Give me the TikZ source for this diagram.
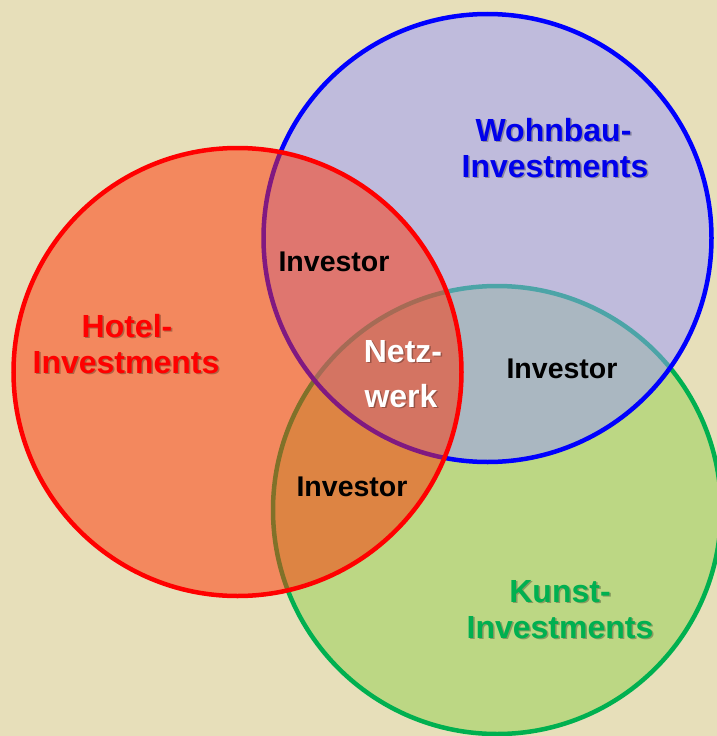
\documentclass[tikz,border=0pt]{standalone}
\usepackage{fontspec}
\setmainfont{Liberation Sans}
\definecolor{bgc}{RGB}{231,223,186}
\definecolor{gfill}{RGB}{146,208,80}
\definecolor{bfill}{RGB}{153,153,255}
\definecolor{rfill}{RGB}{255,51,4}
\definecolor{gline}{RGB}{0,176,80}
\definecolor{bline}{RGB}{0,0,255}
\definecolor{rline}{RGB}{255,0,0}
\definecolor{btext}{RGB}{0,0,235}
\definecolor{rtext}{RGB}{255,0,0}
\definecolor{gtext}{RGB}{0,176,80}
\begin{document}
\begin{tikzpicture}[x=1pt,y=-1pt,
  ring/.style={line width=4.5pt, fill opacity=0.5},
  big/.style={font=\fontsize{32}{38}\selectfont\bfseries, anchor=base, inner sep=0pt},
  small/.style={font=\fontsize{28.5}{34}\selectfont\bfseries, anchor=base, inner sep=0pt},
  shade/.style={text=black, text opacity=0.28}]
\useasboundingbox (0,0) rectangle (717,736);
\clip (0,0) rectangle (717,736);
\fill[bgc] (0,0) rectangle (717,736);
% circles: green, blue, red (red on top)
\draw[ring, draw=gline, fill=gfill] (497,510) circle[radius=224];
\draw[ring, draw=bline, fill=bfill] (487.5,238) circle[radius=224];
\draw[ring, draw=rline, fill=rfill] (237.5,372) circle[radius=224];
% Wohnbau
\node[big, shade] (wohnS) at (555,142.5) {Wohnbau-};
\node[big, text=btext] (wohn) at (553.5,141) {Wohnbau-};
\node[big, shade] (wohnIS) at (556.5,178.5) {Investments};
\node[big, text=btext] (wohnI) at (555,177) {Investments};
% Hotel
\node[big, shade] (hotS) at (128.5,338.5) {Hotel-};
\node[big, text=rtext] (hot) at (127,337) {Hotel-};
\node[big, shade] (hotIS) at (127.5,374.5) {Investments};
\node[big, text=rtext] (hotI) at (126,373) {Investments};
% Kunst
\node[big, shade] (kunS) at (561.5,603.5) {Kunst-};
\node[big, text=gtext] (kun) at (560,602) {Kunst-};
\node[big, shade] (kunIS) at (561.5,639.5) {Investments};
\node[big, text=gtext] (kunI) at (560,638) {Investments};
% Investor labels
\node[small, text=black] (inv1) at (334,271) {Investor};
\node[small, text=black] (inv2) at (562,378) {Investor};
\node[small, text=black] (inv3) at (352,496) {Investor};
% Netzwerk
\node[big, shade] (netzS) at (404.5,363.5) {Netz-};
\node[big, text=white] (netz) at (403,362) {Netz-};
\node[big, shade] (werkS) at (402.5,408.5) {werk};
\node[big, text=white] (werk) at (401,407) {werk};
\end{tikzpicture}
\end{document}
